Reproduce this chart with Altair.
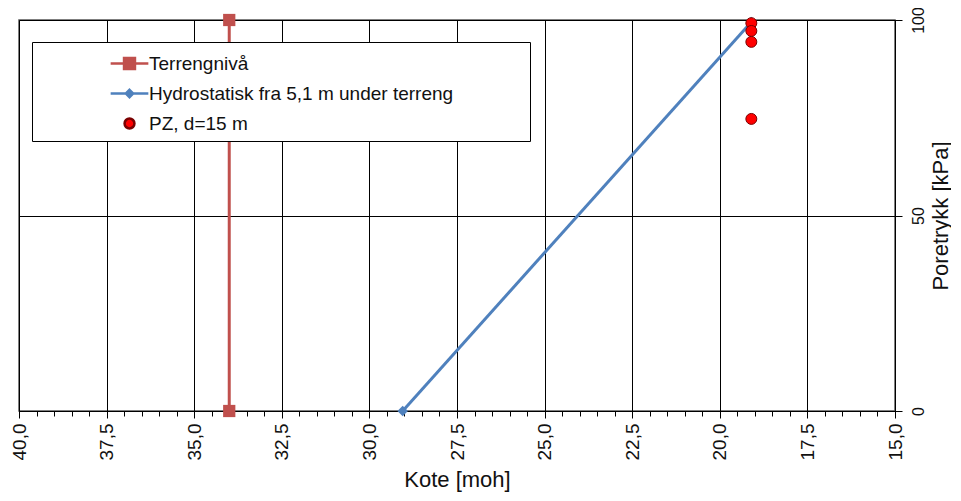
import altair as alt
import pandas as pd

# ---- data ----
series = ["Terrengnivå", "Hydrostatisk fra 5,1 m under terreng", "PZ, d=15 m"]

terreng_kote = [34.0, 34.0]
terreng_p = [0, 100]

hydro_kote = [29.05, 19.1]
hydro_p = [0, 99.5]

pz_kote = [19.1, 19.1, 19.1, 19.1]
pz_p = [99.2, 97.2, 94.4, 74.7]

major_ticks = [40.0, 37.5, 35.0, 32.5, 30.0, 27.5, 25.0, 22.5, 20.0, 17.5, 15.0]
minor_ticks = [40 - 0.5 * i for i in range(51)]
y_ticks = [0, 50, 100]

RED = "#C0504D"
BLUE = "#4F81BD"
PZ_FILL = "#FF0000"
PZ_STROKE = "#7a0000"

rows = []
for k, p in zip(terreng_kote, terreng_p):
    rows.append({"serie": series[0], "kote": k, "p": p})
for k, p in zip(hydro_kote, hydro_p):
    rows.append({"serie": series[1], "kote": k, "p": p})
for k, p in zip(pz_kote, pz_p):
    rows.append({"serie": series[2], "kote": k, "p": p})
df = pd.DataFrame(rows)

FONT = "Liberation Sans"
xscale = alt.Scale(domain=[40, 15], nice=False, zero=False)
yscale = alt.Scale(domain=[0, 100], nice=False)

yenc = alt.Y(
    "p:Q",
    scale=yscale,
    axis=alt.Axis(
        orient="right", values=y_ticks, title="Poretrykk [kPa]",
        grid=True, gridColor="black", gridOpacity=1, gridWidth=1,
        domainColor="black", tickColor="black", tickSize=7,
        labelAngle=270, labelAlign="center", labelBaseline="top",
        labelPadding=8, labelFontSize=16, labelFont=FONT, labelColor="#111",
        titleAngle=270, titleFontSize=22, titleFont=FONT,
        titleFontWeight="normal", titleColor="#111", titlePadding=26,
    ),
)

xmain = alt.X(
    "kote:Q",
    scale=xscale,
    axis=alt.Axis(
        orient="bottom", values=major_ticks, title="Kote [moh]",
        labelExpr="replace(format(datum.value, '.1f'), '.', ',')",
        grid=True, gridColor="black", gridOpacity=1, gridWidth=1,
        domainColor="black", tickColor="black", tickSize=7,
        labelAngle=270, labelAlign="right", labelBaseline="middle",
        labelPadding=5, labelFontSize=19, labelFont=FONT, labelColor="#111",
        titleFontSize=22, titleFont=FONT, titleFontWeight="normal",
        titleColor="#111", titlePadding=10,
    ),
)

xminor = alt.X(
    "kote:Q",
    scale=xscale,
    axis=alt.Axis(
        orient="bottom", values=minor_ticks, labels=False, domain=False,
        grid=False, tickColor="black", tickSize=5, title=None,
    ),
)

xnone = alt.X("kote:Q", scale=xscale, axis=None)

base = alt.Chart(df)

hydro_line = base.transform_filter(alt.datum.serie == series[1]).mark_line(
    color=BLUE, strokeWidth=3
).encode(x=xmain, y=yenc)

terreng_line = base.transform_filter(alt.datum.serie == series[0]).mark_line(
    color=RED, strokeWidth=3
).encode(x=xnone, y=yenc)

terreng_pts = base.transform_filter(alt.datum.serie == series[0]).mark_point(
    shape="square", filled=True, color=RED, size=150, opacity=1
).encode(x=xnone, y=yenc)

hydro_pts = base.transform_filter(alt.datum.serie == series[1]).mark_point(
    shape="diamond", filled=True, color=BLUE, size=110, opacity=1
).encode(x=xnone, y=yenc)

pz_pts = base.transform_filter(alt.datum.serie == series[2]).mark_point(
    shape="circle", filled=True, fill=PZ_FILL, stroke=PZ_STROKE,
    strokeWidth=1, size=120, opacity=1
).encode(x=xnone, y=yenc)

# legend symbols: line + marker drawn as custom paths
shape_paths = [
    "M-1.45,0H1.45M-0.42,-0.42H0.42V0.42H-0.42Z",
    "M-1.45,0H1.45M0,-0.28L0.28,0L0,0.28L-0.28,0Z",
    "M-0.38,0A0.38,0.38 0 1,0 0.38,0A0.38,0.38 0 1,0 -0.38,0Z",
]
leg = alt.Legend(
    title=" ", titleOrient="right", titlePadding=70, titleFontSize=10,
    orient="none", legendX=13, legendY=22,
    fillColor="white", strokeColor="black", padding=7,
    symbolOffset=76, symbolSize=676, symbolStrokeWidth=2.5,
    symbolOpacity=1, labelOffset=5, rowPadding=5,
    labelFont=FONT, labelFontSize=19, labelColor="#111",
    labelLimit=600,
)
legend_layer = base.mark_point(filled=True, opacity=0, size=10).encode(
    x=xminor,
    y=yenc,
    color=alt.Color("serie:N", scale=alt.Scale(domain=series, range=[RED, BLUE, PZ_FILL]), legend=leg),
    stroke=alt.Stroke("serie:N", scale=alt.Scale(domain=series, range=[RED, BLUE, PZ_STROKE]), legend=leg),
    shape=alt.Shape("serie:N", scale=alt.Scale(domain=series, range=shape_paths), legend=leg),
)

chart = alt.layer(
    hydro_line, terreng_line, terreng_pts, hydro_pts, pz_pts, legend_layer
).resolve_axis(x="independent").resolve_scale(x="shared").properties(
    width=876, height=391,
    autosize=alt.AutoSizeParams(type="none"),
    padding={"left": 11, "top": 12, "right": 56, "bottom": 82},
    background="white",
).configure_view(stroke="#555555", strokeWidth=1.5)

chart.save("out.html", embed_options={"renderer": "svg", "actions": False})
